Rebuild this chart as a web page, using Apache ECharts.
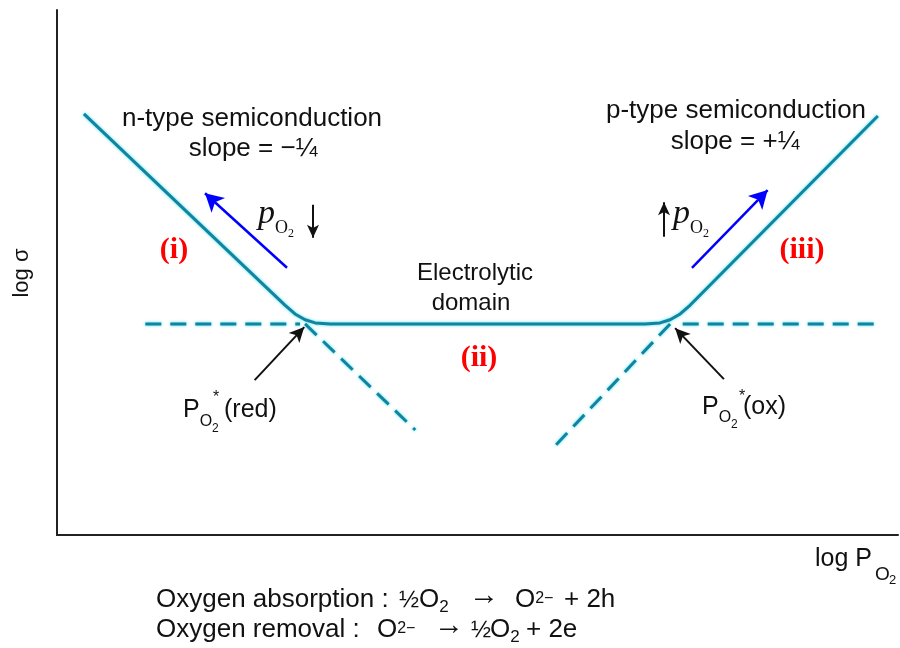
<!DOCTYPE html>
<html><head><meta charset="utf-8">
<script src="https://cdn.jsdelivr.net/npm/echarts@6/dist/echarts.min.js"></script>
<style>html,body{margin:0;padding:0;background:#fff}#c{width:900px;height:648px}</style>
</head><body><div id="c"></div>
<script>
// Schematic values in arbitrary units: x = log pO2 (0..100), y = log sigma (0..100)
const curveX = [3.2, 27.1, 28.3, 29.5, 30.7, 32.5, 69.9, 71.7, 72.9, 74.1, 75.3, 97.6];
const curveY = [80.2, 43.8, 42.1, 41.0, 40.4, 40.2, 40.2, 40.4, 41.0, 42.1, 43.8, 79.8];
const dashLeftFlat  = [[10.5, 40.2], [28.9, 40.2]];
const dashRightFlat = [[74.4, 40.2], [97.9, 40.2]];
const dashLeftDiag  = [[29.5, 40.2], [42.6, 20.0]];
const dashRightDiag = [[72.9, 40.2], [59.3, 17.1]];
const blueArrows  = [[[27.35, 50.9], [17.6, 65.1]], [[75.5, 50.9], [84.5, 65.7]]];
const blackArrows = [[[30.44, 62.9], [30.44, 56.6]], [[72.18, 56.8], [72.18, 63.4]]];
const pointerArrows = [[[23.5, 29.5], [29.4, 39.6]], [[79.3, 29.7], [73.5, 39.4]]];

const SANS = '"Liberation Sans", Arial, Helvetica, sans-serif';
const SERIF = '"Liberation Serif", "Times New Roman", serif';
const TEAL = '#13849d';

const cv = document.createElement('canvas').getContext('2d');
function textW(t, p) {
  cv.font = `${p.style || 'normal'} ${p.weight || 'normal'} ${p.size}px ${p.family || SANS}`;
  return cv.measureText(t).width;
}
// place a row of text runs sharing a baseline
function runs(x, base, parts, anchor) {
  const widths = parts.map(p => textW(p.t, p));
  const total = widths.reduce((a, b) => a + b, 0);
  let cx = anchor === 'center' ? x - total / 2 : x;
  return parts.map((p, i) => {
    if (p.x !== undefined) cx = p.x;
    const el = {
      type: 'text', silent: true, x: cx, y: base + (p.dy || 0) + 0.2 * p.size,
      style: {
        text: p.t, fontSize: p.size, fontFamily: p.family || SANS,
        fontStyle: p.style || 'normal', fontWeight: p.weight || 'normal',
        fill: p.color || '#111', align: 'left', verticalAlign: 'bottom'
      }
    };
    cx += widths[i];
    return el;
  });
}

const chart = echarts.init(document.getElementById('c'), null, { renderer: 'canvas' });

const lineBase = {
  type: 'line', showSymbol: false, symbol: 'none', silent: true, animation: false,
  lineStyle: { color: TEAL, width: 3, shadowColor: 'rgba(40,220,245,0.9)', shadowBlur: 3 }
};
const dashStyle = { color: TEAL, width: 3, type: [16, 9], shadowColor: 'rgba(40,220,245,0.9)', shadowBlur: 3 };

function arrowItems(list, color, width, size) {
  return list.map(([a, b]) => [
    { coord: a, symbol: 'none', lineStyle: { color, width, type: 'solid' } },
    { coord: b, symbol: 'arrow', symbolSize: size }
  ]);
}

const graphics = [].concat(
  runs(252, 127, [{ t: 'n-type semiconduction', size: 26 }], 'center'),
  runs(253, 157, [{ t: 'slope = −¼', size: 26 }], 'center'),
  runs(736, 119, [{ t: 'p-type semiconduction', size: 26 }], 'center'),
  runs(735, 150, [{ t: 'slope = +¼', size: 26 }], 'center'),
  runs(475, 281, [{ t: 'Electrolytic', size: 24 }], 'center'),
  runs(471, 311, [{ t: 'domain', size: 24 }], 'center'),
  runs(174, 259, [{ t: '(i)', size: 30, family: SERIF, weight: 'bold', color: '#ff0000' }], 'center'),
  runs(479, 367, [{ t: '(ii)', size: 30, family: SERIF, weight: 'bold', color: '#ff0000' }], 'center'),
  runs(802, 259, [{ t: '(iii)', size: 30, family: SERIF, weight: 'bold', color: '#ff0000' }], 'center'),
  runs(258, 224, [
    { t: 'p', size: 34, family: SERIF, style: 'italic' },
    { t: 'O', size: 18, family: SERIF, dy: 10 },
    { t: '2', size: 12, family: SERIF, dy: 13 }
  ]),
  runs(673, 224, [
    { t: 'p', size: 34, family: SERIF, style: 'italic' },
    { t: 'O', size: 18, family: SERIF, dy: 10 },
    { t: '2', size: 12, family: SERIF, dy: 13 }
  ]),
  runs(183, 418, [
    { t: 'P', size: 25 },
    { t: 'O', size: 16, dy: 8 },
    { t: '2', size: 12, dy: 14 },
    { t: '*', size: 16, x: 213, dy: -16 },
    { t: '(red)', size: 25, x: 224 }
  ]),
  runs(702, 415, [
    { t: 'P', size: 25 },
    { t: 'O', size: 16, dy: 7 },
    { t: '2', size: 12, dy: 13 },
    { t: '*', size: 16, x: 739, dy: -14 },
    { t: '(ox)', size: 25, x: 743 }
  ]),
  runs(815, 567, [
    { t: 'log P', size: 25 },
    { t: 'O', size: 19, x: 875, dy: 13 },
    { t: '2', size: 13, x: 889, dy: 17 }
  ]),
  runs(156, 608, [
    { t: 'Oxygen absorption :', size: 26 },
    { t: '½', size: 24, x: 399 },
    { t: 'O', size: 26, x: 419 },
    { t: '2', size: 17, dy: 4 },
    { t: '→', size: 30, x: 469, dy: -3 },
    { t: 'O', size: 26, x: 515 },
    { t: '2−', size: 16, dy: -5 },
    { t: '+ 2h', size: 26, x: 564 }
  ]),
  runs(156, 638, [
    { t: 'Oxygen removal :', size: 26 },
    { t: 'O', size: 26, x: 377 },
    { t: '2−', size: 16, dy: -5 },
    { t: '→', size: 30, x: 434, dy: -3 },
    { t: '½', size: 24, x: 471 },
    { t: 'O', size: 26, x: 490 },
    { t: '2', size: 17, dy: 4 },
    { t: '+ 2e', size: 26, x: 526 }
  ]),
  [{
    type: 'text', silent: true, x: 22, y: 273, rotation: Math.PI / 2,
    style: { text: 'log σ', fontSize: 22, fontFamily: SANS, fill: '#111', align: 'center', verticalAlign: 'middle' }
  }]
);

const option = {
  animation: false,
  backgroundColor: '#fff',
  grid: { left: 57, right: 2, top: 10, bottom: 113, containLabel: false },
  xAxis: {
    type: 'value', min: 0, max: 100,
    axisLine: { show: true, lineStyle: { color: '#222', width: 2 } },
    axisTick: { show: false }, axisLabel: { show: false }, splitLine: { show: false }
  },
  yAxis: {
    type: 'value', min: 0, max: 100,
    axisLine: { show: true, lineStyle: { color: '#222', width: 2 } },
    axisTick: { show: false }, axisLabel: { show: false }, splitLine: { show: false }
  },
  series: [
    Object.assign({}, lineBase, {
      name: 'conductivity', z: 3,
      data: curveX.map((x, i) => [x, curveY[i]]),
      markLine: {
        silent: true, animation: false, label: { show: false }, z: 5,
        emphasis: { disabled: true },
        data: [].concat(
          arrowItems(blueArrows, '#0000ff', 2.5, [15, 18]),
          arrowItems(blackArrows, '#111', 2, [9, 13]),
          arrowItems(pointerArrows, '#111', 2, [11, 15])
        )
      }
    }),
    Object.assign({}, lineBase, { name: 'dashLF', data: dashLeftFlat, lineStyle: dashStyle }),
    Object.assign({}, lineBase, { name: 'dashRF', data: dashRightFlat, lineStyle: dashStyle }),
    Object.assign({}, lineBase, { name: 'dashLD', data: dashLeftDiag, lineStyle: dashStyle }),
    Object.assign({}, lineBase, { name: 'dashRD', data: dashRightDiag, lineStyle: dashStyle })
  ],
  graphic: graphics
};
chart.setOption(option);
</script>
</body></html>
